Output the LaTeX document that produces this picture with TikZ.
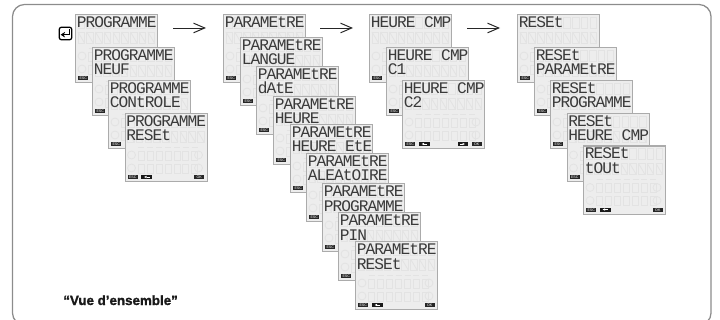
\documentclass[tikz,border=0pt]{standalone}
\usepackage{fontspec}
\usetikzlibrary{arrows.meta}
\newfontfamily\lcdfont{Liberation Mono}[LetterSpace=-5.9]
\newfontfamily\tagfont{Liberation Sans}
\newfontfamily\vuefont{Liberation Sans}[UprightFont=* Bold,FakeBold=1.4]
\definecolor{panelfill}{HTML}{EDEDED}
\definecolor{panelline}{HTML}{ABABAB}
\definecolor{ghost}{HTML}{E3E3E3}
\definecolor{lcdink}{HTML}{3A3A3A}
\tikzset{
  lcdpanel/.style={draw=panelline,line width=0.85pt,fill=panelfill,anchor=north west,inner sep=0pt,
    minimum width=2.05cm,minimum height=1.7cm},
  lcdtext/.style={anchor=base west,inner sep=0pt,text=lcdink,font=\lcdfont\fontsize{11.5}{13}\selectfont},
  tagbox/.style={fill=black!85,anchor=north west,inner sep=0pt,minimum width=0.25cm,minimum height=0.105cm,
    text=white,font=\tagfont\fontsize{2.6}{3}\selectfont},
  keybox/.style={fill=black!90,anchor=north west,inner sep=0pt,minimum width=0.27cm,minimum height=0.105cm},
  flow/.style={draw=black!85,line width=0.7pt,-{Straight Barb[length=2.8mm,width=2.4mm,line width=0.7pt]}},
  ghostline/.style={draw=ghost,line width=0.6pt}
}
\newcommand\lcdghost{%
  \foreach \i in {0,...,8}{
    \draw[ghostline] (3+8.75*\i,3) rectangle (9.5+8.75*\i,14);
    \draw[ghostline] (3+8.75*\i,18) rectangle (9.5+8.75*\i,29);
    \draw[ghostline] (3+8.75*\i,18) -- (9.5+8.75*\i,29);
  }
  \foreach \i in {1,...,7}{
    \draw[ghostline] (5+8.9*\i,38) rectangle (11+8.9*\i,47);
    \draw[ghostline] (5+8.9*\i,51) rectangle (11+8.9*\i,60);
    \draw[ghostline] (5+8.9*\i,34) -- (11+8.9*\i,34);
  }
  \foreach \p in {(7,42),(7,55),(74,42),(74,55)}{\draw[ghostline] \p circle (4);}
}
\newcommand\lcd[6]{%
  \begin{scope}[shift={(#2,#3)}]
    \node[lcdpanel] (#1) at (0,0) {};
    \lcdghost
    \node[lcdtext] (#1-a) at (1.5,13.5) {#4};
    \node[lcdtext] (#1-b) at (1.5,28) {#5};
    \node[tagbox] (#1-esc) at (3,62) {ESC};
    \node[keybox,minimum width=0.275cm] (#1-left) at (16.5,62) {};
    \fill[white] (19.5,64) -- (22,62.8) -- (22,65.2) -- cycle;
    \fill[white] (22,63.6) rectangle (25,64.4);
    #6
  \end{scope}}
\newcommand\okbox{\node[tagbox,minimum width=0.25cm] (okb) at (69.5,62) {OK};}
\newcommand\rightbox{\node[keybox,minimum width=0.25cm] (rgb) at (56,62) {};
  \fill[white] (63,64) -- (60.5,62.8) -- (60.5,65.2) -- cycle;
  \fill[white] (57.5,63.6) rectangle (60.5,64.4);}
\begin{document}
\begin{tikzpicture}[x=0.025cm,y=-0.025cm]
\useasboundingbox (0,0) rectangle (720,320);
\begin{scope}
  \clip (0,0) rectangle (720,320);
  \draw[draw=black!45,line width=0.9pt,rounded corners=0.3cm] (12.5,4.5) rectangle (711,325);
\end{scope}

\node[draw=black,line width=0.9pt,rounded corners=0.05cm,inner sep=0pt,minimum width=0.31cm,minimum height=0.31cm,fill=white] (enter) at (65.5,33.5) {};
\draw[black,line width=0.9pt,-{Stealth[length=1.1mm,width=1.4mm]}] ([xshift=-0.07cm,yshift=-0.07cm]enter.north east) |- ([xshift=0.05cm,yshift=-0.03cm]enter.west);

\lcd{pa}{75}{14}{PROGRAMME}{}{}
\lcd{pb}{92}{47}{PROGRAMME}{NEUF}{}
\lcd{pc}{108}{80}{PROGRAMME}{CONtROLE}{}
\lcd{pd}{124.5}{113}{PROGRAMME}{RESEt}{\okbox}

\lcd{qa}{223}{14}{PARAMEtRE}{}{}
\lcd{qb}{240}{37}{PARAMEtRE}{LANGUE}{}
\lcd{qc}{256}{66}{PARAMEtRE}{dAtE}{}
\lcd{qd}{273}{96}{PARAMEtRE}{HEURE}{}
\lcd{qe}{290}{124}{PARAMEtRE}{HEURE EtE}{}
\lcd{qf}{306}{153}{PARAMEtRE}{ALEAtOIRE}{}
\lcd{qg}{322}{183}{PARAMEtRE}{PROGRAMME}{}
\lcd{qh}{338}{212}{PARAMEtRE}{PIN}{}
\lcd{qi}{355}{241}{PARAMEtRE}{RESEt}{\okbox}

\lcd{ha}{369}{14}{HEURE CMP}{}{}
\lcd{hb}{386}{47}{HEURE CMP}{C1}{}
\lcd{hc}{402}{80}{HEURE CMP}{C2}{\rightbox\okbox}

\lcd{ra}{517}{14}{RESEt}{}{}
\lcd{rb}{534}{47}{RESEt}{PARAMEtRE}{}
\lcd{rc}{550}{80}{RESEt}{PROGRAMME}{}
\lcd{rd}{566.5}{113}{RESEt}{HEURE CMP}{}
\lcd{re}{583}{145.5}{RESEt}{tOUt}{\okbox}

\coordinate (s1) at (173,28); \coordinate (e1) at (206,28);
\coordinate (s2) at (320,28); \coordinate (e2) at (353,28);
\coordinate (s3) at (467,28); \coordinate (e3) at (500,28);
\draw[flow] (s1) -- (e1);
\draw[flow] (s2) -- (e2);
\draw[flow] (s3) -- (e3);

\node[anchor=base west,inner sep=0pt,font=\vuefont\fontsize{9.5}{11}\selectfont,text=black!90] (vue) at (63,305) {“Vue d’ensemble”};
\end{tikzpicture}
\end{document}
